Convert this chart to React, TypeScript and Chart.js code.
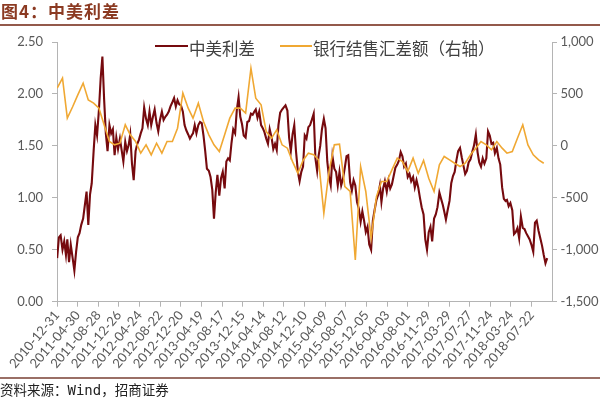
import React, { useEffect, useRef } from 'react';
import { Chart, registerables } from 'chart.js';

Chart.register(...registerables);

// X-axis tick labels (every 120 days)
const xTickLabels = [
  '2010-12-31', '2011-04-30', '2011-08-28', '2011-12-26', '2012-04-24', '2012-08-22',
  '2012-12-20', '2013-04-19', '2013-08-17', '2013-12-15', '2014-04-14', '2014-08-12',
  '2014-12-10', '2015-04-09', '2015-08-07', '2015-12-05', '2016-04-03', '2016-08-01',
  '2016-11-29', '2017-03-29', '2017-07-27', '2017-11-24', '2018-03-24', '2018-07-22',
];
const axisStart = '2010-12-31';
const axisEnd = '2018-11-18';

// 中美利差 (readings on the 1st, 11th and 21st of each month), left axis
const years = [2011, 2012, 2013, 2014, 2015, 2016, 2017, 2018];
const spreadDays = [1, 11, 21];
const spread2011 = [0.42, 0.62, 0.64, 0.50, 0.58, 0.45, 0.60, 0.38, 0.55, 0.42, 0.30, 0.48, 0.62, 0.66, 0.74, 0.80, 0.93, 1.06, 0.74, 1.03, 1.14, 1.45, 1.70, 1.60, 1.85, 2.15, 2.36, 1.95, 1.62, 1.45, 1.70, 1.62, 1.66, 1.41, 1.58, 1.47];
const spread2012 = [1.57, 1.46, 1.35, 1.54, 1.45, 1.51, 1.61, 1.33, 1.17, 1.45, 1.52, 1.56, 1.62, 1.67, 1.87, 1.76, 1.70, 1.83, 1.70, 1.78, 1.85, 1.72, 1.64, 1.75, 1.83, 1.75, 1.78, 1.80, 1.83, 1.88, 1.92, 1.96, 1.88, 1.94, 1.90, 1.89];
const spread2013 = [1.83, 1.70, 1.65, 1.61, 1.57, 1.60, 1.62, 1.70, 1.62, 1.70, 1.73, 1.72, 1.60, 1.45, 1.28, 1.26, 1.20, 1.08, 0.80, 1.05, 1.22, 1.02, 1.19, 1.25, 1.09, 1.35, 1.38, 1.36, 1.53, 1.66, 1.62, 1.85, 1.97, 1.78, 1.71, 1.60];
const spread2014 = [1.58, 1.73, 1.74, 1.81, 1.80, 1.83, 1.85, 1.77, 1.83, 1.70, 1.67, 1.63, 1.57, 1.52, 1.66, 1.58, 1.47, 1.52, 1.46, 1.70, 1.82, 1.85, 1.87, 1.89, 1.84, 1.58, 1.45, 1.61, 1.70, 1.45, 1.25, 1.16, 1.25, 1.30, 1.60, 1.57];
const spread2015 = [1.68, 1.70, 1.75, 1.81, 1.38, 1.26, 1.40, 1.50, 1.66, 1.76, 1.67, 1.35, 1.20, 1.12, 1.40, 1.28, 1.25, 1.12, 1.25, 1.12, 1.18, 1.29, 1.40, 1.41, 1.15, 1.07, 1.17, 1.12, 0.96, 0.90, 0.77, 0.87, 0.78, 0.67, 0.72, 0.55];
const spread2016 = [0.50, 0.78, 0.88, 0.98, 1.03, 1.12, 0.96, 1.09, 1.16, 1.06, 1.17, 1.09, 1.13, 1.21, 1.29, 1.32, 1.36, 1.44, 1.40, 1.30, 1.33, 1.20, 1.23, 1.16, 1.20, 1.10, 1.17, 1.10, 1.00, 0.91, 0.84, 0.60, 0.50, 0.67, 0.72, 0.58];
const spread2017 = [0.80, 0.84, 0.91, 1.05, 0.99, 0.93, 0.87, 0.79, 0.88, 0.97, 1.14, 1.21, 1.25, 1.36, 1.45, 1.48, 1.39, 1.31, 1.23, 1.26, 1.34, 1.37, 1.44, 1.50, 1.61, 1.44, 1.34, 1.30, 1.38, 1.33, 1.38, 1.64, 1.60, 1.52, 1.53, 1.43];
const spread2018 = [1.48, 1.38, 1.32, 1.10, 0.99, 0.97, 0.98, 0.92, 0.95, 0.88, 0.65, 0.67, 0.71, 0.61, 0.82, 0.71, 0.70, 0.66, 0.63, 0.60, 0.55, 0.48, 0.76, 0.78, 0.68, 0.61, 0.54, 0.45, 0.37, 0.42];
const spreadValues = [spread2011, spread2012, spread2013, spread2014, spread2015, spread2016, spread2017, spread2018];

// 银行结售汇差额 (monthly), right axis
const fx2011 = [556, 652, 267, 377, 491, 604, 443, 411, 363, 203, 42, 10];
const fx2012 = [26, 203, 106, 42, -70, 10, -86, 26, -70, 42, 42, 170];
const fx2013 = [508, 363, 267, 411, 235, 106, 10, -54, 106, 267, 363, 363];
const fx2014 = [315, 748, 459, 395, 138, 74, 154, 10, -22, -151, -263, -140];
const fx2015 = [-70, -86, -134, -648, -247, 10, 16, -391, -439, -1097, -199, -439];
const fx2016 = [-889, -488, -343, -343, -231, -118, -151, -247, -118, -263, -140, -311];
const fx2017 = [-439, -183, -102, -134, -167, -199, -167, -86, -22, 42, 10, -38];
const fx2018 = [42, -22, -70, -54, 74, 203, 10, -86, -134, -167];
const fxValues = [fx2011, fx2012, fx2013, fx2014, fx2015, fx2016, fx2017, fx2018];

const seriesNames = ['中美利差', '银行结售汇差额（右轴）'];
const titleText = '图4：中美利差';

const RED = '#760A0E';
const ORANGE = '#F0A833';
const AXIS = '#B4B4B4';
const TICK_TEXT = '#595959';

const DAY = 86400000;
function parseDay(s: string): number {
  const [y, m, d] = s.split('-').map(Number);
  return Date.UTC(y, m - 1, d);
}
const origin = parseDay(axisStart);
const toOffset = (y: number, m: number, d: number) => Math.round((Date.UTC(y, m, d) - origin) / DAY);

const tickDays = xTickLabels.map((s) => Math.round((parseDay(s) - origin) / DAY));
const tickLabelMap: Record<number, string> = {};
tickDays.forEach((d, i) => { tickLabelMap[d] = xTickLabels[i]; });
const maxDay = Math.round((parseDay(axisEnd) - origin) / DAY);

const spreadPoints: { x: number; y: number }[] = [];
years.forEach((yr, yi) => {
  spreadValues[yi].forEach((v, i) => {
    spreadPoints.push({ x: toOffset(yr, Math.floor(i / 3), spreadDays[i % 3]), y: v });
  });
});
const fxPoints: { x: number; y: number }[] = [];
years.forEach((yr, yi) => {
  fxValues[yi].forEach((v, i) => {
    fxPoints.push({ x: toOffset(yr, i, 1), y: v });
  });
});

export default function App() {
  const canvasRef = useRef<HTMLCanvasElement | null>(null);

  useEffect(() => {
    const canvas = canvasRef.current;
    if (!canvas) return;
    const tickFont = { family: 'Lato, "Liberation Sans", sans-serif', size: 13 };
    const chart = new Chart(canvas, {
      type: 'line',
      data: {
        datasets: [
          {
            label: seriesNames[0],
            data: spreadPoints,
            borderColor: RED,
            backgroundColor: RED,
            borderWidth: 2.1,
            pointRadius: 0,
            tension: 0,
            yAxisID: 'y',
            order: 2,
          },
          {
            label: seriesNames[1],
            data: fxPoints,
            borderColor: ORANGE,
            backgroundColor: ORANGE,
            borderWidth: 1.6,
            pointRadius: 0,
            tension: 0,
            yAxisID: 'y1',
            order: 1,
          },
        ],
      },
      options: {
        animation: false,
        responsive: false,
        devicePixelRatio: 1,
        layout: { padding: { top: 42, left: 0, right: 0, bottom: 0 } },
        plugins: { legend: { display: false }, tooltip: { enabled: false } },
        scales: {
          x: {
            type: 'linear',
            min: 0,
            max: maxDay,
            afterBuildTicks: (s: any) => { s.ticks = tickDays.map((v) => ({ value: v })); },
            afterFit: (s: any) => { s.height = 97.3; },
            ticks: {
              autoSkip: false,
              minRotation: 50,
              maxRotation: 50,
              padding: 1,
              color: TICK_TEXT,
              font: { family: 'Lato, "Liberation Sans", sans-serif', size: 13 },
              callback: (v: any) => tickLabelMap[v] ?? '',
            },
            grid: { drawOnChartArea: false, drawTicks: true, tickLength: 5, color: AXIS },
            border: { display: true, color: AXIS },
          },
          y: {
            position: 'left',
            min: 0,
            max: 2.5,
            afterFit: (s: any) => { s.width = 57; },
            ticks: { stepSize: 0.5, padding: 9, color: TICK_TEXT, font: tickFont, callback: (v: any) => Number(v).toFixed(2) },
            grid: { drawOnChartArea: false, drawTicks: true, tickLength: 5, color: AXIS },
            border: { display: true, color: AXIS },
          },
          y1: {
            position: 'right',
            min: -1500,
            max: 1000,
            afterFit: (s: any) => { s.width = 48; },
            ticks: { stepSize: 500, padding: 3.5, color: TICK_TEXT, font: tickFont, callback: (v: any) => Number(v).toLocaleString('en-US') },
            grid: { drawOnChartArea: false, drawTicks: true, tickLength: 5, color: AXIS },
            border: { display: true, color: AXIS },
          },
        },
      },
    } as any);
    return () => chart.destroy();
  }, []);

  const cjk = '"Noto Sans CJK SC", "Noto Sans", sans-serif';
  return (
    <div style={{ position: 'fixed', left: 0, top: 0, width: 600, height: 399, background: '#fff', overflow: 'hidden' }}>
      <canvas ref={canvasRef} width={600} height={399} style={{ position: 'absolute', left: 0, top: 0, width: 600, height: 399 }} />
      <div style={{ position: 'absolute', left: 1, top: 1, fontFamily: cjk, fontWeight: 700, fontSize: 17, lineHeight: '20px', color: '#8B3A22', letterSpacing: '1px', whiteSpace: 'nowrap' }}>{titleText}</div>
      <div style={{ position: 'absolute', left: 0, top: 24, width: 600, height: 1.5, background: '#93594B' }} />
      <div style={{ position: 'absolute', left: 155, top: 45, width: 33, height: 2, background: RED }} />
      <div style={{ position: 'absolute', left: 189, top: 37, fontFamily: cjk, fontSize: 16.5, lineHeight: '22px', color: '#404040', whiteSpace: 'nowrap' }}>{seriesNames[0]}</div>
      <div style={{ position: 'absolute', left: 280, top: 45, width: 32, height: 2, background: ORANGE }} />
      <div style={{ position: 'absolute', left: 313, top: 37, fontFamily: cjk, fontSize: 16.5, lineHeight: '22px', color: '#404040', whiteSpace: 'nowrap' }}>{seriesNames[1]}</div>
      <div style={{ position: 'absolute', left: 0, top: 377, width: 600, height: 1.5, background: '#9A6F66' }} />
      <div style={{ position: 'absolute', left: 0, top: 380, fontFamily: cjk, fontSize: 13.5, lineHeight: '18px', color: '#222', whiteSpace: 'nowrap' }}>
        资料来源：<span style={{ fontFamily: '"DejaVu Sans Mono", monospace', fontSize: 14 }}>Wind</span>，招商证券
      </div>
    </div>
  );
}
